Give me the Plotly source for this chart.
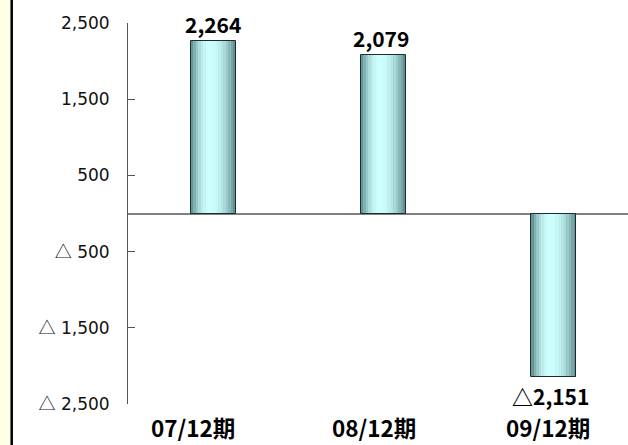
import plotly.graph_objects as go

# Fiscal periods and net income (units as reported; negatives shown with △)
categories = ["07/12期", "08/12期", "09/12期"]
values = [2264, 2079, -2151]
tick_values = [2500, 1500, 500, -500, -1500, -2500]
tick_labels = ["2,500", "1,500", "500", "△ 500", "△ 1,500", "△ 2,500"]


def fmt(v):
    return f"{v:,}" if v >= 0 else f"△{-v:,}"


def tick_html(s):
    # the triangle mark is set in a CJK face so it keeps its full width
    return s.replace("△", "<span style='font-family:Noto Sans CJK JP'>△</span>")


W, H = 628, 445
ML, MT, MB = 128, 23, 41
plot_w = W - ML
plot_h = H - MT - MB

bar_w = 0.264
n_slices = 18
dark = (88, 133, 133)
light = (206, 255, 255)
peak = 0.42

fig = go.Figure()

# Cylinder-style shading: each bar is built from thin vertical slices
for i in range(n_slices):
    t = (i + 0.5) / n_slices
    d = peak if t < peak else 1 - peak
    f = max(0.0, 1 - ((t - peak) / d) ** 2)
    col = tuple(round(dark[k] + f * (light[k] - dark[k])) for k in range(3))
    fig.add_trace(go.Bar(
        x=list(range(len(categories))), y=values,
        width=bar_w / n_slices,
        offset=-bar_w / 2 + i * bar_w / n_slices,
        marker=dict(color="rgb(%d,%d,%d)" % col, line=dict(width=0)),
        hoverinfo="skip", showlegend=False,
    ))

# Outline of each bar
fig.add_trace(go.Bar(
    x=list(range(len(categories))), y=values,
    width=bar_w, offset=-bar_w / 2,
    marker=dict(color="rgba(0,0,0,0)", line=dict(color="#1a2e2e", width=1)),
    hoverinfo="skip", showlegend=False,
))

annotations = []
value_shift = [0, -2, -3]
for i, v in enumerate(values):
    annotations.append(dict(
        x=i, y=v, xref="x", yref="y", text="<b>%s</b>" % fmt(v),
        showarrow=False,
        yanchor="bottom" if v >= 0 else "top",
        yshift=0 if v >= 0 else -2, xshift=value_shift[i],
        font=dict(family="Noto Sans CJK JP", size=21, color="#000000"),
    ))

cat_shift = [-20, -9, -6]
for i, c in enumerate(categories):
    annotations.append(dict(
        x=i, y=(MT + plot_h - 427) / plot_h, xref="x", yref="paper",
        text="<b>%s</b>" % c, showarrow=False, yanchor="middle",
        xshift=cat_shift[i],
        font=dict(family="Noto Sans CJK JP", size=22.5, color="#000000"),
    ))


def px_x(p):
    return (p - ML) / plot_w


def px_y(p):
    return (MT + plot_h - p) / plot_h


shapes = [
    dict(type="rect", xref="paper", yref="paper",
         x0=px_x(0), x1=px_x(10.5), y0=px_y(H), y1=px_y(0),
         fillcolor="#FFFFE3", line=dict(width=0), layer="below"),
    dict(type="line", xref="paper", yref="paper",
         x0=px_x(11.7), x1=px_x(11.7), y0=px_y(H), y1=px_y(0),
         line=dict(color="#000000", width=2.5)),
]

fig.update_layout(
    width=W, height=H,
    margin=dict(l=ML, r=0, t=MT, b=MB, pad=0),
    paper_bgcolor="white", plot_bgcolor="white",
    barmode="overlay", bargap=0,
    showlegend=False,
    annotations=annotations,
    shapes=shapes,
    xaxis=dict(range=[-0.5, -0.5 + plot_w / 170.3], showticklabels=False,
               showgrid=False, zeroline=False, showline=False, ticks="",
               fixedrange=True),
    yaxis=dict(range=[-2500, 2500], tickvals=tick_values,
               ticktext=[tick_html(s) for s in tick_labels],
               showgrid=False, zeroline=True, zerolinecolor="#808080",
               zerolinewidth=1.5, showline=True, linecolor="#555555",
               linewidth=1, ticks="inside", ticklen=7, tickcolor="#555555",
               tickwidth=1, ticklabelstandoff=14,
               tickfont=dict(family="DejaVu Sans", size=17, color="#111111"),
               fixedrange=True),
)

fig.write_html("out.html")
